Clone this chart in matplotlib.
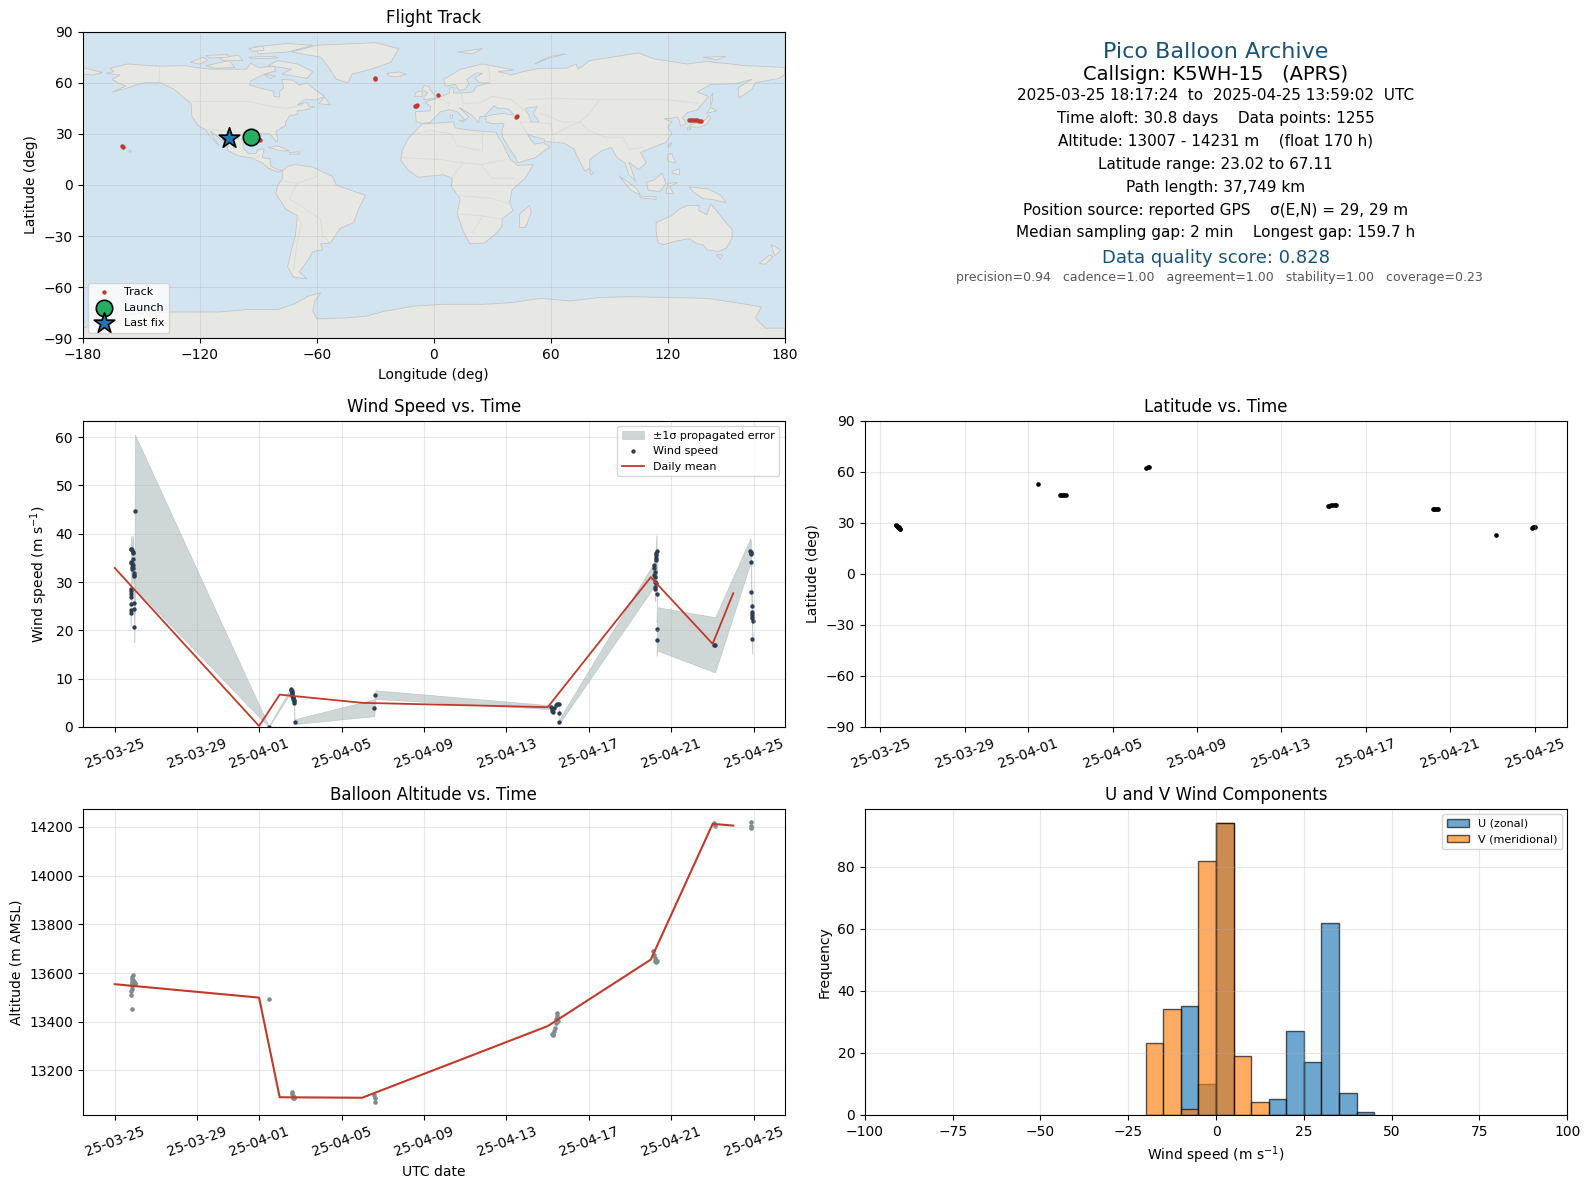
import matplotlib
matplotlib.use("Agg")
import matplotlib.pyplot as plt

W, H = 1589, 1189
RED = "#c0392b"; NAVY = "#2c3e50"; GREY = "#7f8c8d"; BLUE = "#1a5276"; BAND = "#95a5a6"

# ---------- date axis ----------
tick_days = [0, 4, 7, 11, 15, 19, 23, 27, 31]
tick_labels = ["25-03-25", "25-03-29", "25-04-01", "25-04-05", "25-04-09",
               "25-04-13", "25-04-17", "25-04-21", "25-04-25"]

# ---------- flight track ----------
track_lon = [-159.8, -159.4, -107.5, -106.5, -89.6, -89.0, -30.2, -29.9, 2.0, -9.6, -9.2, -8.8,
             42.2, 42.6, 131.0, 132.0, 133.0, 134.0, 135.0, 136.0, 137.2]
track_lat = [23.0, 22.4, 27.6, 27.2, 27.0, 26.6, 62.3, 62.8, 52.9, 46.3, 46.6, 46.9,
             40.0, 40.6, 38.0, 38.0, 38.0, 37.9, 37.9, 37.8, 37.4]
launch_lon, launch_lat = [-93.7], [28.3]
last_lon, last_lat = [-104.9], [27.5]

# ---------- wind speed ----------
wind_t = [0.77, 0.77, 0.77, 0.78, 0.78, 0.78, 0.79, 0.79, 0.79, 0.80, 0.80,
          0.85, 0.85, 0.86, 0.86, 0.88, 0.89, 0.89, 0.90, 0.90,
          0.92, 0.92, 0.93, 0.93, 0.94, 0.95, 0.98,
          7.47,
          8.56, 8.57, 8.58, 8.59, 8.60, 8.61, 8.62, 8.63, 8.64, 8.65, 8.67, 8.69, 8.70, 8.72,
          12.59, 12.64,
          21.15, 21.19, 21.23, 21.27, 21.31, 21.39, 21.47, 21.55, 21.55, 21.55,
          26.15, 26.16, 26.17, 26.18, 26.19, 26.20, 26.21, 26.22, 26.23, 26.24, 26.25, 26.26,
          26.27, 26.28, 26.30, 26.28, 26.32,
          29.08, 29.12,
          30.83, 30.84, 30.85, 30.86, 30.86, 30.88, 30.89, 30.90, 30.91, 30.92, 30.93, 30.94, 30.92]
wind_v = [23.5, 24.3, 25.5, 27.0, 27.5, 28.2, 28.5, 33.9, 34.1, 36.9, 36.8,
          32.7, 33.2, 34.0, 36.6, 36.2, 36.0, 34.8, 33.5, 32.8,
          31.9, 31.4, 31.2, 25.7, 24.5, 20.6, 44.6,
          0.1,
          7.8, 7.6, 7.4, 7.2, 7.0, 6.8, 6.5, 6.2, 6.0, 5.8, 5.5, 5.3, 5.0, 1.1,
          4.0, 6.7,
          4.1, 3.8, 3.4, 3.1, 3.9, 4.5, 4.8, 4.7, 2.8, 1.1,
          31.5, 33.5, 33.0, 32.0, 31.0, 30.0, 29.0, 28.5, 29.7, 34.5, 35.0, 35.5,
          36.0, 36.5, 27.6, 18.1, 20.3,
          17.05, 17.0,
          36.5, 36.2, 36.0, 35.8, 34.2, 28.0, 25.1, 23.8, 23.4, 23.0, 22.5, 22.0, 18.3]
wind_s = [2.5, 2.5, 2.6, 2.7, 2.7, 2.7, 2.8, 2.8, 2.8, 2.6, 2.6,
          3.0, 3.0, 3.0, 3.0, 3.0, 3.0, 3.0, 3.0, 3.0,
          3.0, 3.0, 3.0, 3.0, 3.0, 3.0, 15.9,
          0.1,
          0.5, 0.5, 0.5, 0.5, 0.5, 0.5, 0.5, 0.5, 0.5, 0.5, 0.5, 0.5, 0.5, 0.5,
          1.75, 0.9,
          0.4, 0.4, 0.4, 0.4, 0.4, 0.4, 0.4, 0.4, 0.4, 0.5,
          2.5, 2.5, 2.5, 2.5, 2.5, 2.5, 2.5, 2.5, 2.5, 2.5, 2.5, 2.5,
          3.2, 3.2, 1.4, 3.6, 4.5,
          5.7, 5.7,
          2.6, 2.6, 2.6, 2.6, 2.8, 3.0, 3.0, 3.0, 3.0, 3.0, 3.0, 3.0, 3.1]
mean_days = [0, 7, 8, 12, 21, 26, 29, 30]
mean_wind = [32.9, 0.2, 6.7, 5.0, 4.1, 31.0, 17.2, 27.7]

# ---------- latitude ----------
lat_t = [0.74, 0.76, 0.78, 0.80, 0.82, 0.84, 0.86, 0.88, 0.90, 0.92, 0.94,
         7.45, 8.50, 8.58, 8.66, 8.72, 8.78, 12.60, 12.66, 12.74,
         21.20, 21.28, 21.36, 21.44, 21.52, 21.60,
         26.18, 26.24, 26.30, 26.36, 26.41, 29.16, 30.90, 30.94, 30.98, 31.02]
lat_v = [28.9, 28.6, 28.3, 28.0, 27.7, 27.5, 27.3, 27.0, 26.8, 26.6, 26.4,
         52.9, 46.5, 46.4, 46.5, 46.5, 46.4, 62.2, 62.6, 62.9,
         40.1, 40.1, 40.2, 40.4, 40.6, 40.6,
         38.3, 38.2, 38.0, 37.8, 37.9, 23.0, 27.0, 27.2, 27.4, 27.6]

# ---------- altitude ----------
alt_t = [0.80, 0.80, 0.82, 0.82, 0.83, 0.84, 0.85, 0.86, 0.90, 0.90, 0.92, 0.94, 0.97, 1.00, 0.84,
         7.47,
         8.60, 8.62, 8.64, 8.66, 8.68, 8.70,
         12.57, 12.60, 12.64,
         21.20, 21.24, 21.28, 21.30, 21.34, 21.38, 21.42, 21.46, 21.44, 21.50,
         26.10, 26.14, 26.18, 26.22, 26.26, 26.30,
         29.05, 29.10, 30.84, 30.86, 30.88, 30.84]
alt_v = [13510, 13525, 13535, 13545, 13555, 13565, 13575, 13585, 13591, 13570, 13563, 13560, 13555,
         13560, 13454,
         13495,
         13113, 13105, 13095, 13088, 13085, 13090,
         13100, 13088, 13072,
         13350, 13345, 13350, 13362, 13375, 13395, 13412, 13434, 13422, 13402,
         13690, 13675, 13662, 13650, 13645, 13648,
         14215, 14203, 14220, 14205, 14195, 14200]
mean_alt = [13554, 13499, 13090, 13088, 13382, 13655, 14212, 14205]

# ---------- histogram ----------
bin_left = [-20, -15, -10, -5, 0, 5, 10, 15, 20, 25, 30, 35, 40]
u_counts = [0, 0, 35, 10, 94, 0, 0, 5, 27, 17, 62, 7, 1]
v_counts = [23, 34, 2, 82, 94, 19, 4, 0, 0, 0, 0, 0, 0]
bin_width = 5

# ---------- map outlines (lon, lat) ----------
land = [
 [(-168,65.5),(-164,66.5),(-166,68.5),(-157,71),(-141,69.7),(-128,70),(-115,68),(-108,68),(-96,68),(-94,71.5),(-90,69),(-82,69.5),(-81,67),(-87,65),(-94,61),(-94.5,58.7),(-88,56.5),(-82,55),(-82,52),(-79,51.5),(-79,55),(-77,57),(-78,62),(-72,61.5),(-69,58.5),(-65,60),(-61,56),(-56,52),(-60,50),(-66,50),(-70,47),(-65,48.5),(-64,46),(-61,46),(-66,44),(-70,43.5),(-70,41.5),(-74,40.5),(-76,37),(-76,35),(-81,31.5),(-80,27),(-80.5,25),(-82,27),(-84,30),(-89,30),(-94,29.5),(-97.5,27),(-97.8,22),(-95,18.5),(-91,18.5),(-90,21),(-87,21),(-88,16),(-84,15.5),(-83.5,11),(-80,9),(-77.5,8.5),(-80,7.5),(-85,10),(-88,13),(-94,16),(-100,17),(-105.5,20),(-106,23),(-112,29.5),(-114.5,31.5),(-113,28),(-110,23),(-112,25),(-115,29),(-117,32.5),(-120.5,34.5),(-124,40),(-124.5,48),(-128,51),(-133,56),(-140,60),(-148,60),(-152,59),(-158,56.5),(-165,54.5),(-158,58),(-162,60),(-165,62),(-161,64.5)],
 [(-80,73),(-70,71),(-62,66.5),(-65,62.5),(-72,64),(-78,65),(-73,68),(-85,70)],
 [(-117,70),(-105,73),(-102,69),(-112,68.5)],
 [(-90,77),(-75,78),(-62,82),(-75,83),(-92,81)],
 [(-125,72),(-118,75),(-116,73),(-120,71)],
 [(-110,75),(-100,76),(-98,73),(-108,73)],
 [(-95,75),(-82,75.5),(-80,74.5),(-93,74)],
 [(-117,76),(-106,76.5),(-105,75),(-115,74.5)],
 [(-95,80),(-88,81.5),(-87,79),(-93,78.5)],
 [(-87,65),(-81,64),(-84,62.5)],
 [(-59,47.7),(-53,47),(-56,51.5)],
 [(-85,22),(-80,23),(-74,20),(-78,20)],
 [(-74,19),(-69,19.5),(-69,18.2),(-74,18)],
 [(-73,78),(-60,82),(-30,83.5),(-18,80),(-22,72),(-32,68),(-42,65),(-44,60),(-50,62),(-54,69),(-58,75)],
 [(-24,65.5),(-18,66.3),(-14,65),(-19,63.4),(-23,64)],
 [(-156.5,20.5),(-155,19.8),(-155.8,19)],
 [(-77.5,8.5),(-75,11),(-71,12),(-62,10.5),(-52,5),(-50,0),(-44,-2.5),(-35,-6),(-39,-15),(-41,-22),(-48,-25.5),(-53,-34),(-58,-34.5),(-57,-38),(-62,-39),(-65,-45),(-69,-51),(-65,-55),(-72,-54),(-75,-48),(-73,-38),(-71,-30),(-70,-18),(-76,-14),(-81,-5),(-80,0),(-77.5,4)],
 [(-6,35.8),(10,37),(11,33.5),(20,32),(25,31.5),(32,31),(33,28),(35.5,24),(37,20),(39,15.5),(43,11.5),(51,12),(47,4),(40,-3),(39,-10),(40.5,-15),(35,-20),(35,-24),(32.5,-28),(26,-34),(18.5,-34.5),(15,-27),(12,-17),(13.5,-8),(9,-1),(9.5,4),(5,6),(-4,5),(-8,4.5),(-13,8.5),(-17,14.5),(-16,21),(-13,27.5),(-9.5,31.5)],
 [(-9,37),(-9.5,43),(-2,43.5),(-1.5,46),(-4.5,48.5),(2,51),(8,54),(8,57),(10.5,57),(10,54),(14,54),(20,54.5),(22,58),(29,60),(23,60),(21,63),(25,65.5),(22,65.8),(17,62),(18,59.5),(16,56),(13,55.5),(11,59),(6,58),(5,62),(14,68),(25,71),(41,67.5),(33,66.5),(40,64.5),(44,66),(54,68.5),(68,68.5),(73,71),(74,68),(80,73),(105,77.5),(113,74),(130,71),(140,72.5),(160,70),(180,69),(180,65),(177,62.5),(165,60),(163,56),(156.5,51),(156,57),(163,62),(155,59.5),(142,59),(135,54.5),(141,52),(135,44),(130,42.5),(127.5,39.5),(129.5,36),(126.5,34.5),(126,37.5),(125,40),(121,39),(118,39),(122,37),(120,34),(122,30),(119,25),(110,21),(106,19),(109,13),(105,9),(100,13.5),(103.5,2),(100,6),(98,13),(94,16),(91,22),(86,20),(80,15),(80,10),(77.5,8),(73,18),(72,21),(67,24.5),(57,25.5),(56.5,27),(51,28.5),(48,30),(50,26),(52,24),(56,25),(59.5,22.5),(52,16),(43,13),(42,16),(39,21),(35.5,27.5),(35,29.5),(35,32),(36,36),(30,36),(27,37),(26.5,40),(29,41),(35,42),(41,41),(39,44),(37,45),(33,45),(31,46.5),(28,43),(26,40.5),(23.5,40),(23,36.5),(19.5,41),(13,45.5),(18,40),(16,38),(12,43),(8,44.2),(3.5,43),(0,39),(-2,36.7),(-6,36.2)],
 [(-180,69),(-170,66),(-175,64.5),(-180,65)],
 [(-5,50),(1,51),(0,53.5),(-2,56),(-2,57.5),(-5,58.5),(-6,56),(-3,54),(-5,52)],
 [(-10,52),(-6,52),(-6,55),(-9,54.5)],
 [(131,34),(136,34),(140,35.5),(142,39.5),(141,41),(139.5,38.5),(136,36.5),(132,35.5)],
 [(140,42),(145,43.5),(142,45.5)],
 [(130,32),(132,33),(130,33.8)],
 [(142,46),(143,50),(143,54),(142,52)],
 [(120,23),(122,25),(121,22)],
 [(120,14),(124,13),(122,18.5),(120,18)],
 [(122,7),(126,6),(126,9.5),(123,8.5)],
 [(109,1.5),(113,3),(117,7),(119,1),(116,-4),(110,-3)],
 [(95,5.5),(104,-2),(106,-6),(101,-3)],
 [(105.5,-6.5),(114,-7),(114,-8.5),(106,-7.5)],
 [(119,-5),(120,1),(125,1.5),(121,-1),(123,-5)],
 [(131,-1),(141,-2.5),(147,-6),(150,-10.5),(143,-8.5),(138,-8),(133,-4)],
 [(114,-22),(122,-18),(126,-14),(130,-12),(136,-12),(136,-15),(140,-17.5),(142,-11),(145,-15),(149,-21),(153,-26),(153,-31),(150,-37),(146,-39),(140,-38),(138,-35),(135,-34.5),(131,-31.5),(124,-33),(118,-35),(115,-34),(114,-27)],
 [(145,-41),(148,-41),(147,-43.5)],
 [(173,-35),(178,-38),(175,-41.5),(174,-39)],
 [(172,-41),(174,-42),(170,-46.5),(167,-46)],
 [(49,-12),(50,-16),(47,-25),(44,-25),(44,-17)],
 [(80,9.5),(82,7),(80.5,6)],
 [(52,71),(58,74),(68,77),(60,75.5),(55,73)],
 [(12,78),(25,80),(20,77)],
 [(138,75),(150,75.5),(145,73.5)],
 [(13,38),(15.5,38),(15,36.8)], [(8.3,41),(9.7,41),(9.5,39),(8.5,39)],
 [(-180,-84),(-158,-76),(-135,-74.5),(-110,-74.5),(-95,-73),(-80,-73),(-72,-70),(-64,-65),(-58,-63.3),(-61,-68),(-62,-74),(-60,-78.5),(-45,-78),(-35,-77),(-25,-74),(-10,-71),(5,-70),(25,-70),(40,-69),(55,-66.5),(70,-68),(85,-66),(100,-65.5),(120,-66),(140,-66.5),(155,-69),(168,-71.5),(165,-78),(170,-84),(180,-84),(180,-90),(-180,-90)],
]
inland_water = [[(47,45),(53,46),(51,42),(54,37),(50,37),(49,40)]]
borders = [
 [(-141,69.7),(-141,60)], [(-123,49),(-95,49),(-83,46),(-75,45),(-67,47)],
 [(-117,32.5),(-106,31.5),(-97.5,26)], [(-92,15),(-89,18)],
 [(-70,-18),(-68,-23),(-70,-33),(-72,-50)], [(-70,-11),(-58,-20),(-57,-30),(-53,-34)],
 [(-60,5),(-70,1),(-74,-8),(-70,-11)], [(-78,2),(-70,1)],
 [(-9,30),(-2,32),(9,30),(12,23),(25,20),(25,31)], [(-16,16),(3,15),(15,13),(24,12),(37,15)],
 [(9,4),(15,13)], [(24,12),(30,4),(41,4)], [(12,-6),(30,-8),(39,-11)], [(12,-17),(24,-18),(35,-20)],
 [(25,-18),(20,-28)],
 [(2,51),(8,48),(7,44)], [(14,54),(15,48),(23,48),(30,52),(40,50),(48,42)], [(29,60),(28,70)],
 [(48,50),(60,51),(85,50),(98,50),(120,50),(135,48)], [(55,42),(66,37),(75,37)], [(48,30),(44,37),(60,36),(62,25)],
 [(75,37),(79,32),(88,28),(97,28),(100,21),(107,22)], [(62,30),(71,35),(75,37)], [(85,50),(80,42),(75,37)],
]
LAND = "#e7e7e3"; OCEAN = "#d3e4f1"; COAST = "#c2c5c6"; BORDER = "#dadad7"

# ---------- figure ----------
fig = plt.figure(figsize=(W / 100, H / 100), dpi=100)


def axes_px(x0, x1, y0, y1):
    return fig.add_axes([x0 / W, 1 - y1 / H, (x1 - x0) / W, (y1 - y0) / H])


LX0, LX1, RX0, RX1 = 82.8, 784.8, 864.8, 1567.3
ROWS = [(31.6, 338.4), (420.6, 727), (808.8, 1114.8)]


def style_time(ax, xlim):
    ax.set_xlim(*xlim)
    ax.set_xticks(tick_days)
    ax.set_xticklabels(tick_labels, rotation=20)
    ax.grid(True, alpha=0.3)


# map
ax = axes_px(LX0, LX1, *ROWS[0])
ax.set_facecolor(OCEAN)
for poly in land:
    ax.fill(*zip(*poly), facecolor=LAND, edgecolor=COAST, linewidth=0.6, zorder=0.5)
for poly in inland_water:
    ax.fill(*zip(*poly), facecolor=OCEAN, edgecolor=COAST, linewidth=0.5, zorder=0.6)
for line in borders:
    ax.plot(*zip(*line), color=BORDER, linewidth=0.6, zorder=0.7)
ax.scatter(track_lon, track_lat, s=10, color=RED, linewidths=0, label="Track", zorder=3)
ax.scatter(launch_lon, launch_lat, s=140, color="#27ae60", edgecolor="black", linewidth=1.2,
           label="Launch", zorder=4)
ax.scatter(last_lon, last_lat, s=240, marker="*", color="#1f77b4", edgecolor="black", linewidth=1.2,
           label="Last fix", zorder=5)
ax.set_xlim(-180, 180); ax.set_ylim(-90, 90)
ax.set_xticks(range(-180, 181, 60)); ax.set_yticks(range(-90, 91, 30))
ax.grid(True, alpha=0.3)
ax.set_title("Flight Track", fontsize=12)
ax.set_xlabel("Longitude (deg)"); ax.set_ylabel("Latitude (deg)")
ax.legend(loc="lower left", fontsize=8)

# text panel
ax = axes_px(RX0, RX1, *ROWS[0])
ax.axis("off")
text_x = [1215.5, 1215.5, 1215.5, 1215.5, 1215.5, 1215.5, 1215.5, 1215.5, 1215.5, 1215.5, 1219.5]
lines = [
    (51.5, "Pico Balloon Archive", 16, BLUE),
    (74, "Callsign: K5WH-15   (APRS)", 14, "black"),
    (95.2, "2025-03-25 18:17:24  to  2025-04-25 13:59:02  UTC", 11, "black"),
    (118, "Time aloft: 30.8 days    Data points: 1255", 11, "black"),
    (141, "Altitude: 13007 - 14231 m    (float 170 h)", 11, "black"),
    (164.4, "Latitude range: 23.02 to 67.11", 11, "black"),
    (187.6, "Path length: 37,749 km", 11, "black"),
    (210, "Position source: reported GPS    σ(E,N) = 29, 29 m", 11, "black"),
    (233, "Median sampling gap: 2 min    Longest gap: 159.7 h", 11, "black"),
    (258.2, "Data quality score: 0.828", 13, BLUE),
    (277.8, "precision=0.94   cadence=1.00   agreement=1.00   stability=1.00   coverage=0.23", 9, "#555555"),
]
for xpx, (ypx, txt, size, col) in zip(text_x, lines):
    fig.text(xpx / W, 1 - ypx / H, txt, fontsize=size, color=col, ha="center", va="center")

# wind speed
ax = axes_px(LX0, LX1, *ROWS[1])
lo = [v - s for v, s in zip(wind_v, wind_s)]
hi = [v + s for v, s in zip(wind_v, wind_s)]
ax.fill_between(wind_t, lo, hi, color=BAND, alpha=0.45, linewidth=0.5, label="±1σ propagated error")
ax.scatter(wind_t, wind_v, s=10, color=NAVY, linewidths=0, label="Wind speed")
ax.plot(mean_days, mean_wind, color=RED, linewidth=1.3, label="Daily mean")
style_time(ax, (-1.55, 32.5))
ax.set_ylim(0, 63.4)
ax.set_ylabel(r"Wind speed (m s$^{-1}$)")
ax.set_title("Wind Speed vs. Time", fontsize=12)
ax.legend(loc="upper right", fontsize=8)

# latitude
ax = axes_px(RX0, RX1, *ROWS[1])
ax.scatter(lat_t, lat_v, s=11, color="black", linewidths=0)
style_time(ax, (-0.74, 32.55))
ax.set_ylim(-90, 90)
ax.set_yticks(range(-90, 91, 30))
ax.set_ylabel("Latitude (deg)")
ax.set_title("Latitude vs. Time", fontsize=12)

# altitude
ax = axes_px(LX0, LX1, *ROWS[2])
ax.scatter(alt_t, alt_v, s=11, color=GREY, linewidths=0)
ax.plot(mean_days, mean_alt, color=RED, linewidth=1.5)
style_time(ax, (-1.55, 32.5))
ax.set_ylim(13018, 14274)
ax.set_xlabel("UTC date"); ax.set_ylabel("Altitude (m AMSL)")
ax.set_title("Balloon Altitude vs. Time", fontsize=12)

# histogram
ax = axes_px(RX0, RX1, *ROWS[2])
ax.bar(bin_left, u_counts, width=bin_width, align="edge", color="tab:blue", alpha=0.65,
       edgecolor="black", label="U (zonal)")
ax.bar(bin_left, v_counts, width=bin_width, align="edge", color="tab:orange", alpha=0.65,
       edgecolor="black", label="V (meridional)")
ax.set_xlim(-100, 100); ax.set_ylim(0, 98.7)
ax.grid(True, alpha=0.3)
ax.set_xlabel(r"Wind speed (m s$^{-1}$)"); ax.set_ylabel("Frequency")
ax.set_title("U and V Wind Components", fontsize=12)
ax.legend(loc="upper right", fontsize=8)

fig.savefig("out.png", dpi=100)
